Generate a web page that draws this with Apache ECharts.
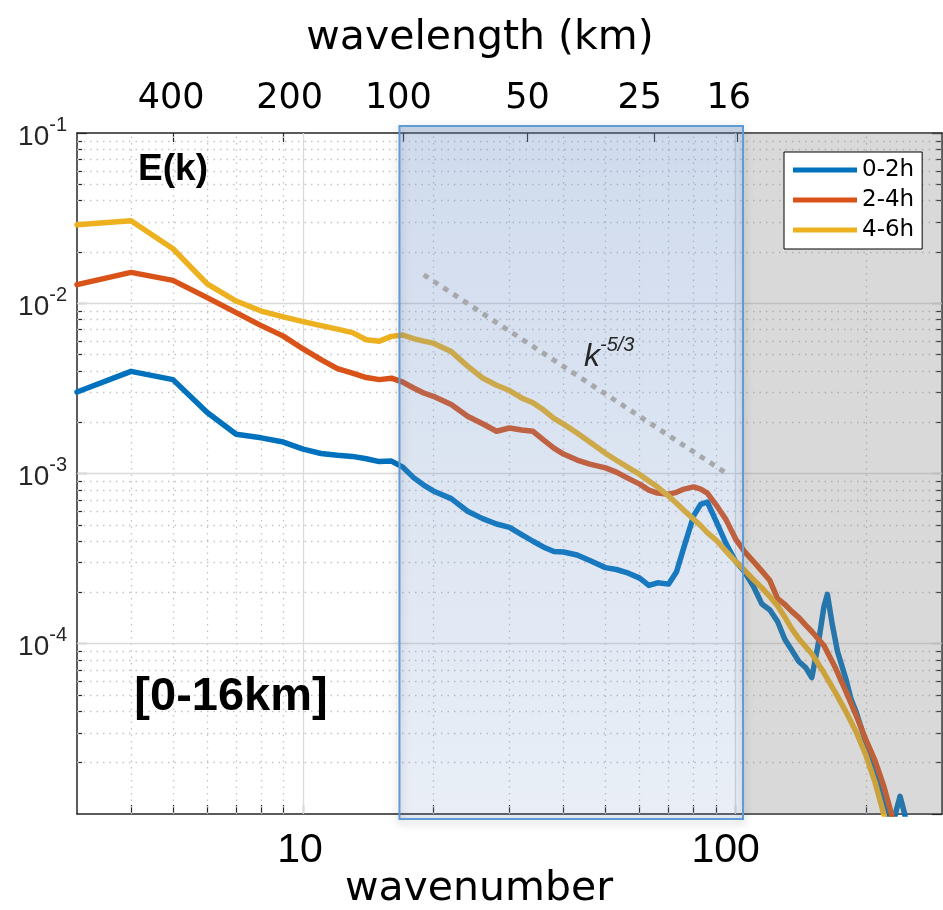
<!DOCTYPE html>
<html>
<head>
<meta charset="utf-8">
<title>E(k) spectra</title>
<script src="https://cdn.jsdelivr.net/npm/echarts@6/dist/echarts.min.js"></script>
<style>
  html, body { margin: 0; padding: 0; background: #fff; }
  #chart { width: 943px; height: 910px; }
</style>
</head>
<body>
<div id="chart"></div>
<script>
// ---- spectra: wavenumber vs kinetic energy E(k) ----
const wavenumber02 = [3, 4, 5, 6, 7, 8, 9, 10, 11, 12, 13, 14, 15, 16, 17, 18, 19, 20, 22, 24, 26, 28, 30, 32, 34, 36, 38, 40, 43, 46, 50, 53, 56, 60, 63, 66, 70, 73, 76, 80, 83, 86, 90, 95, 100, 105, 110, 115, 120, 125, 130, 135, 140, 145, 150, 155, 160, 163, 167, 172, 180, 185, 190, 200, 210, 220, 226, 230, 234, 240, 246, 252];
const energy02 = [0.00301, 0.00398, 0.00356, 0.00228, 0.00170, 0.00162, 0.00153, 0.00139, 0.00131, 0.00128, 0.00126, 0.00122, 0.001175, 0.001183, 0.00109, 0.000946, 0.000855, 0.00079, 0.000712, 0.0006, 0.000543, 0.000505, 0.000483, 0.000438, 0.0004, 0.000369, 0.000348, 0.000346, 0.000332, 0.000308, 0.00028, 0.000273, 0.000262, 0.000243, 0.00022, 0.000228, 0.000224, 0.000265, 0.000372, 0.000566, 0.000659, 0.00068, 0.000529, 0.000388, 0.000304, 0.000264, 0.000217, 0.000171, 0.000158, 0.000135, 0.000106, 0.0000912, 0.0000786, 0.0000727, 0.0000633, 0.0000976, 0.000165, 0.000195, 0.000133, 0.00009, 0.0000616, 0.000047, 0.0000397, 0.0000263, 0.0000183, 0.0000122, 0.0000095, 0.000008, 0.00001, 0.0000127, 0.00001, 0.000006];

const wavenumber = [3, 4, 5, 6, 7, 8, 9, 10, 11, 12, 13, 14, 15, 16, 17, 18, 19, 20, 22, 24, 26, 28, 30, 32, 34, 36, 38, 40, 43, 46, 50, 53, 56, 60, 63, 66, 70, 73, 76, 80, 83, 86, 90, 95, 100, 105, 110, 115, 120, 125, 130, 135, 140, 145, 150, 160, 170, 180, 190, 200, 210, 220, 230, 240];
const energy24 = [0.01286, 0.01518, 0.01363, 0.01079, 0.00881, 0.00739, 0.00641, 0.00539, 0.00466, 0.00413, 0.00389, 0.00366, 0.00356, 0.00363, 0.00344, 0.00318, 0.00297, 0.00284, 0.00254, 0.00217, 0.00196, 0.00177, 0.00185, 0.0018, 0.00177, 0.00157, 0.00141, 0.0013, 0.0012, 0.001136, 0.001079, 0.001019, 0.000946, 0.000866, 0.000799, 0.000767, 0.000756, 0.000775, 0.00081, 0.000834, 0.00081, 0.000767, 0.000657, 0.000536, 0.000412, 0.000346, 0.000304, 0.000267, 0.000235, 0.000184, 0.00017, 0.0001545, 0.0001425, 0.000129, 0.000118, 0.0000976, 0.0000725, 0.0000524, 0.0000379, 0.0000274, 0.0000206, 0.0000146, 0.0000097, 0.000007];
const energy46 = [0.0289, 0.0305, 0.0209, 0.013, 0.0103, 0.009, 0.00832, 0.0078, 0.00739, 0.00705, 0.00672, 0.00611, 0.00599, 0.00639, 0.00651, 0.0062, 0.00599, 0.00583, 0.0052, 0.00427, 0.00364, 0.0033, 0.00307, 0.00278, 0.0026, 0.00236, 0.00211, 0.00195, 0.00173, 0.00153, 0.001316, 0.001197, 0.001098, 0.000988, 0.000905, 0.000832, 0.000736, 0.000669, 0.000607, 0.000538, 0.000494, 0.00045, 0.000408, 0.00035, 0.000304, 0.000269, 0.000238, 0.000213, 0.000189, 0.000167, 0.000143, 0.000122, 0.000107, 0.0000964, 0.0000874, 0.0000675, 0.0000518, 0.0000398, 0.0000303, 0.0000222, 0.0000154, 0.00001, 0.0000065, 0.000005];

const seriesNames = ['0-2h', '2-4h', '4-6h'];
const seriesColors = ['#0072BD', '#D95319', '#EDB120'];

// k^-5/3 reference segment (end points)
const refK = [19, 96.5];
const refE = [0.0147, 0.00098];

// axis ranges and ticks
const kRange = [3, 300];
const eRange = [1e-5, 1e-1];
const bottomLabelK = [9.84, 94.8];
const bottomLabels = ['10', '100'];
const bottomTicks = [4, 5, 6, 7, 8, 9, 10, 20, 30, 40, 50, 60, 70, 80, 90, 100, 200];
const xMajorGrid = [10, 100];
const xMinorGrid = [4, 5, 6, 7, 8, 9, 20, 30, 40, 50, 60, 70, 80, 90, 200];
const yMajorGrid = [1e-4, 1e-3, 1e-2];
const yDecades = [1e-5, 1e-4, 1e-3, 1e-2];
const minorSteps = [2, 3, 4, 5, 6, 7, 8, 9];

// wavelength axis on top (lambda = 1600 / (k - 1))
const topTickK = [5, 9, 17, 33, 65, 101];
const topLabelK = [4.95, 9.31, 16.6, 33, 60, 96.4];
const topLabels = ['400', '200', '100', '50', '25', '16'];

// shaded bands
const boxK = [16.7, 104];
const boxE = [9.35e-6, 0.110];
const shadeK = [104, 300];

const FONT = '"Liberation Sans", Arial, Helvetica, sans-serif';
const WIDE_FONT = '"DejaVu Sans", Verdana, sans-serif';
const AXIS_COLOR = '#262626';

const yMinor = [];
yDecades.forEach(d => minorSteps.forEach(m => yMinor.push(d * m)));

const nearestLabel = (positions, texts) => function (v) {
  let best = 0, bd = Infinity;
  positions.forEach((p, i) => { const d = Math.abs(Math.log(v) - Math.log(p)); if (d < bd) { bd = d; best = i; } });
  return texts[best];
};

const chart = echarts.init(document.getElementById('chart'), null, { renderer: 'canvas' });

const pairs = (xs, ys) => xs.map((x, i) => [x, ys[i]]);

const spectra = [energy02, energy24, energy46].map((e, i) => ({
  type: 'line',
  name: seriesNames[i],
  data: pairs(i === 0 ? wavenumber02 : wavenumber, e),
  xAxisIndex: 0,
  yAxisIndex: 0,
  symbol: 'none',
  showSymbol: false,
  clip: true,
  z: 3 + i,
  lineStyle: { color: seriesColors[i], width: 5.5, join: 'round', cap: 'round' },
  itemStyle: { color: seriesColors[i] },
  silent: true
}));

// grid lines as mark lines; precision kept high so small log values are not rounded away
const gridLines = (name, values, style, z) => ({
  type: 'line', name: name, data: [], xAxisIndex: 0, yAxisIndex: 0, silent: true, z: z,
  markLine: {
    silent: true, z: z, animation: false, symbol: ['none', 'none'], precision: 20,
    label: { show: false },
    lineStyle: style,
    emphasis: { disabled: true },
    data: values
  }
});

const option = {
  animation: false,
  backgroundColor: '#fff',
  grid: { left: 77, right: 1, top: 133, bottom: 96, containLabel: false },
  legend: {
    data: seriesNames,
    orient: 'vertical',
    left: 784,
    top: 152,
    itemWidth: 64,
    itemHeight: 5,
    itemGap: 6,
    icon: 'rect',
    padding: [6, 8, 7, 9],
    backgroundColor: '#fff',
    borderColor: '#000',
    borderWidth: 1,
    borderRadius: 0,
    selectedMode: false,
    z: 20,
    textStyle: { fontSize: 23, color: '#000', fontFamily: WIDE_FONT, lineHeight: 24 }
  },
  xAxis: [
    {
      type: 'log', logBase: 10, min: kRange[0], max: kRange[1], position: 'bottom',
      axisLine: { show: true, onZero: false, lineStyle: { color: AXIS_COLOR, width: 1.5 } },
      axisTick: { show: false },
      axisLabel: {
        customValues: bottomLabelK, color: '#000', fontSize: 41, fontFamily: FONT, margin: 16,
        formatter: nearestLabel(bottomLabelK, bottomLabels)
      },
      splitLine: { show: false }
    },
    {
      type: 'log', logBase: 10, min: kRange[0], max: kRange[1], position: 'bottom',
      axisLine: { show: false },
      axisTick: { show: true, inside: true, length: 9, customValues: bottomTicks, lineStyle: { color: AXIS_COLOR, width: 1.2 } },
      axisLabel: { show: false },
      splitLine: { show: false }
    },
    {
      type: 'log', logBase: 10, min: kRange[0], max: kRange[1], position: 'top',
      axisLine: { show: true, onZero: false, lineStyle: { color: AXIS_COLOR, width: 1.5 } },
      axisTick: { show: true, inside: true, length: 9, customValues: topTickK, lineStyle: { color: AXIS_COLOR, width: 1.2 } },
      axisLabel: {
        customValues: topLabelK, color: '#000', fontSize: 35, fontFamily: WIDE_FONT, margin: 17,
        formatter: nearestLabel(topLabelK, topLabels)
      },
      splitLine: { show: false }
    }
  ],
  yAxis: [
    {
      type: 'log', logBase: 10, min: eRange[0], max: eRange[1], position: 'left',
      axisLine: { show: true, onZero: false, lineStyle: { color: AXIS_COLOR, width: 1.5 } },
      axisTick: { show: true, inside: true, length: 10, lineStyle: { color: AXIS_COLOR, width: 1.2 } },
      axisLabel: {
        showMinLabel: false, showMaxLabel: true, margin: 10,
        formatter: v => '{b|10}{s|' + Math.round(Math.log10(v)) + '}',
        rich: {
          b: { fontSize: 28, color: AXIS_COLOR, fontFamily: FONT, padding: [8, 0, 0, 0] },
          s: { fontSize: 20, color: AXIS_COLOR, fontFamily: FONT, verticalAlign: 'top' }
        }
      },
      splitLine: { show: false }
    },
    {
      type: 'log', logBase: 10, min: eRange[0], max: eRange[1], position: 'left',
      axisLine: { show: false },
      axisTick: { show: true, inside: true, length: 5, customValues: yMinor, lineStyle: { color: AXIS_COLOR, width: 1.2 } },
      axisLabel: { show: false },
      splitLine: { show: false }
    },
    {
      type: 'log', logBase: 10, min: eRange[0], max: eRange[1], position: 'right',
      axisLine: { show: true, onZero: false, lineStyle: { color: AXIS_COLOR, width: 1.5 } },
      axisTick: { show: true, inside: true, length: 10, lineStyle: { color: AXIS_COLOR, width: 1.2 } },
      axisLabel: { show: false },
      splitLine: { show: false }
    },
    {
      type: 'log', logBase: 10, min: eRange[0], max: eRange[1], position: 'right',
      axisLine: { show: false },
      axisTick: { show: true, inside: true, length: 6, customValues: yMinor, lineStyle: { color: AXIS_COLOR, width: 1.2 } },
      axisLabel: { show: false },
      splitLine: { show: false }
    }
  ],
  series: [
    // dotted minor grid, then solid major grid on top of it
    gridLines('minor-grid',
      xMinorGrid.map(v => ({ xAxis: v })).concat(yMinor.map(v => ({ yAxis: v }))),
      { color: '#c4c4c4', width: 1.3, type: [1.5, 5] }, 1),
    gridLines('major-grid',
      xMajorGrid.map(v => ({ xAxis: v })).concat(yMajorGrid.map(v => ({ yAxis: v }))),
      { color: '#dadada', width: 1.3, type: 'solid' }, 2),
    ...spectra,
    {
      type: 'line', name: 'k-5/3', data: pairs(refK, refE), xAxisIndex: 0, yAxisIndex: 0,
      symbol: 'none', showSymbol: false, silent: true, z: 14,
      lineStyle: { color: '#a6a8ac', width: 5, type: [5.5, 6.3], cap: 'butt' }
    }
  ]
};

chart.setOption(option);

// overlays placed through the axis scales
const px = (k, e) => chart.convertToPixel({ xAxisIndex: 0, yAxisIndex: 0 }, [k, e]);
const g0 = px(shadeK[0], eRange[1]);
const g1 = px(shadeK[1], eRange[0]);
const b0 = px(boxK[0], boxE[1]);
const b1 = px(boxK[1], boxE[0]);
const boxShape = { x: b0[0], y: b0[1], width: b1[0] - b0[0], height: b1[1] - b0[1] };

chart.setOption({
  graphic: [
    {
      type: 'rect', silent: true, z: 10,
      shape: { x: g0[0], y: g0[1], width: g1[0] - g0[0], height: g1[1] - g0[1] },
      style: { fill: 'rgba(128,128,128,0.3)' }
    },
    {
      type: 'rect', silent: true, z: 11,
      shape: boxShape,
      style: {
        fill: {
          type: 'linear', x: 0, y: 0, x2: 0, y2: 1,
          colorStops: [
            { offset: 0, color: 'rgba(110,145,200,0.33)' },
            { offset: 1, color: 'rgba(110,145,200,0.15)' }
          ]
        }
      }
    },
    {
      type: 'rect', silent: true, z: 12,
      shape: boxShape,
      style: {
        fill: 'none', stroke: '#5f9bd6', lineWidth: 2,
        shadowBlur: 8, shadowColor: 'rgba(0,0,0,0.3)', shadowOffsetY: 3
      }
    },
    {
      type: 'text', silent: true, z: 30, x: 480, y: 38,
      style: { text: 'wavelength (km)', fontSize: 41, fontFamily: WIDE_FONT, fill: '#000', align: 'center', verticalAlign: 'middle' }
    },
    {
      type: 'text', silent: true, z: 30, x: 479, y: 889,
      style: { text: 'wavenumber', fontSize: 41, fontFamily: WIDE_FONT, fill: '#000', align: 'center', verticalAlign: 'middle' }
    },
    {
      type: 'text', silent: true, z: 30, x: 173, y: 170,
      style: { text: 'E(k)', fontSize: 37, fontWeight: 'bold', fontFamily: FONT, fill: '#000', align: 'center', verticalAlign: 'middle' }
    },
    {
      type: 'text', silent: true, z: 30, x: 231, y: 697,
      style: { text: '[0-16km]', fontSize: 47, fontWeight: 'bold', fontFamily: FONT, fill: '#000', align: 'center', verticalAlign: 'middle' }
    },
    {
      type: 'text', silent: true, z: 30, x: 584, y: 354,
      style: {
        text: '{k|k}{s|-5/3}', align: 'left', verticalAlign: 'middle',
        rich: {
          k: { fontSize: 32, fontStyle: 'italic', fontFamily: FONT, fill: '#262626', padding: [6, 0, 0, 0] },
          s: { fontSize: 20, fontStyle: 'italic', fontFamily: FONT, fill: '#262626', verticalAlign: 'top' }
        }
      }
    }
  ]
});
</script>
</body>
</html>
